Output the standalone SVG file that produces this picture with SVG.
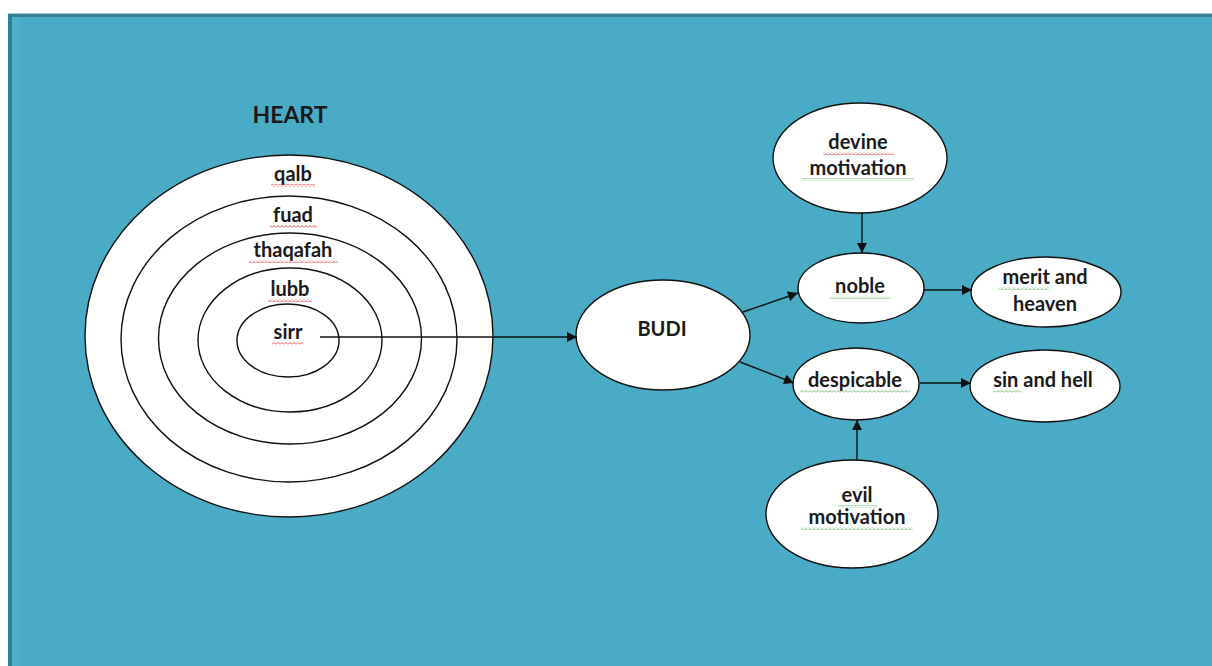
<svg xmlns="http://www.w3.org/2000/svg" width="1212" height="666" viewBox="0 0 1212 666">
<style>
.bg{fill:#4AABC6}
.node{fill:#fff;stroke:#111;stroke-width:1.4}
.ring{fill:none;stroke:#111;stroke-width:1.4}
.t{font-family:Lato,"Liberation Sans",sans-serif;font-weight:bold;font-size:20px;fill:#1a1a1a;text-anchor:middle}
.h{font-size:23px}
.edge{stroke:#111;stroke-width:1.4;fill:none;marker-end:url(#arr)}
.sqr{fill:url(#wr)}
.sqg{fill:url(#wg)}
</style>
<defs>
<marker id="arr" viewBox="0 0 10 10" refX="10" refY="5" markerWidth="11" markerHeight="10" markerUnits="userSpaceOnUse" orient="auto">
<path d="M0,0 L10,5 L0,10 z" fill="#111"/>
</marker>
<pattern id="wr" width="4" height="3" patternUnits="userSpaceOnUse">
<polyline points="0,2.5 2,0.5 4,2.5" fill="none" stroke="#d22" stroke-width="0.8"/>
</pattern>
<pattern id="wg" width="4" height="3" patternUnits="userSpaceOnUse">
<polyline points="0,2.5 2,0.5 4,2.5" fill="none" stroke="#5a5" stroke-width="0.8"/>
</pattern>
</defs>
<rect x="0" y="0" width="1212" height="666" fill="#fff"/>
<rect class="bg" x="8" y="13" width="1204" height="653"/>
<rect x="8" y="13" width="1204" height="1" fill="#8fd3df"/>
<rect x="8" y="14" width="1204" height="3" fill="#3c7f8f"/>
<rect x="8" y="14" width="4" height="652" fill="#2f7f96"/>
<rect x="12" y="17" width="8" height="649" fill="#55b0c9" opacity="0.6"/>

<g id="heart">
<text class="t h" x="290" y="123">HEART</text>
<ellipse class="node" cx="289" cy="336" rx="204" ry="181"/>
<ellipse class="ring" cx="289" cy="339" rx="168" ry="143"/>
<ellipse class="ring" cx="290" cy="338.5" rx="131.5" ry="105.5"/>
<ellipse class="ring" cx="290" cy="340" rx="92" ry="72"/>
<ellipse class="ring" cx="288" cy="340.5" rx="51" ry="36.5"/>
<text class="t" x="293" y="181">qalb</text>
<rect class="sqr" x="271" y="184" width="44" height="3"/>
<text class="t" x="293" y="222">fuad</text>
<rect class="sqr" x="270" y="225" width="47" height="3"/>
<text class="t" x="293" y="257">thaqafah</text>
<rect class="sqr" x="249" y="260" width="89" height="3"/>
<text class="t" x="290" y="296">lubb</text>
<rect class="sqr" x="268" y="299" width="44" height="3"/>
<text class="t" x="288" y="339">sirr</text>
<rect class="sqr" x="272" y="342" width="31" height="3"/>
</g>

<g id="budi">
<ellipse class="node" cx="663" cy="335" rx="87" ry="55"/>
<text class="t" x="662" y="336">BUDI</text>
</g>

<g id="devine">
<ellipse class="node" cx="860" cy="158" rx="87" ry="55"/>
<text class="t" x="858" y="149">devine</text>
<rect class="sqr" x="823" y="152" width="71" height="3"/>
<text class="t" x="858" y="175">motivation</text>
<rect class="sqg" x="802" y="178" width="112" height="3"/>
</g>

<g id="noble">
<ellipse class="node" cx="861" cy="288" rx="63" ry="35"/>
<text class="t" x="860" y="293">noble</text>
<rect class="sqg" x="830" y="296" width="60" height="3"/>
</g>

<g id="merit">
<ellipse class="node" cx="1046" cy="292" rx="75" ry="35"/>
<text class="t" x="1045" y="284">merit and</text>
<rect class="sqg" x="998" y="287" width="51" height="3"/>
<text class="t" x="1045" y="311">heaven</text>
</g>

<g id="despicable">
<ellipse class="node" cx="856" cy="384" rx="63" ry="36"/>
<text class="t" x="855" y="387">despicable</text>
<rect class="sqg" x="800" y="390" width="110" height="3"/>
</g>

<g id="sin">
<ellipse class="node" cx="1045" cy="386" rx="75" ry="36"/>
<text class="t" x="1043" y="387">sin and hell</text>
<rect class="sqg" x="993" y="390" width="28" height="3"/>
</g>

<g id="evil">
<ellipse class="node" cx="852" cy="514" rx="86" ry="54"/>
<text class="t" x="857" y="502">evil</text>
<rect class="sqg" x="838" y="505" width="39" height="3"/>
<text class="t" x="857" y="524">motivation</text>
<rect class="sqg" x="801" y="527" width="112" height="3"/>
</g>

<g id="connectors">
<line class="edge" x1="320" y1="337" x2="577" y2="337"/>
<line class="edge" x1="862" y1="213" x2="862" y2="253"/>
<line class="edge" x1="743" y1="312" x2="798" y2="293"/>
<line class="edge" x1="740" y1="362" x2="794" y2="383"/>
<line class="edge" x1="924" y1="290" x2="972" y2="290"/>
<line class="edge" x1="920" y1="383" x2="971" y2="383"/>
<line class="edge" x1="857" y1="460" x2="857" y2="420"/>
</g>
</svg>
